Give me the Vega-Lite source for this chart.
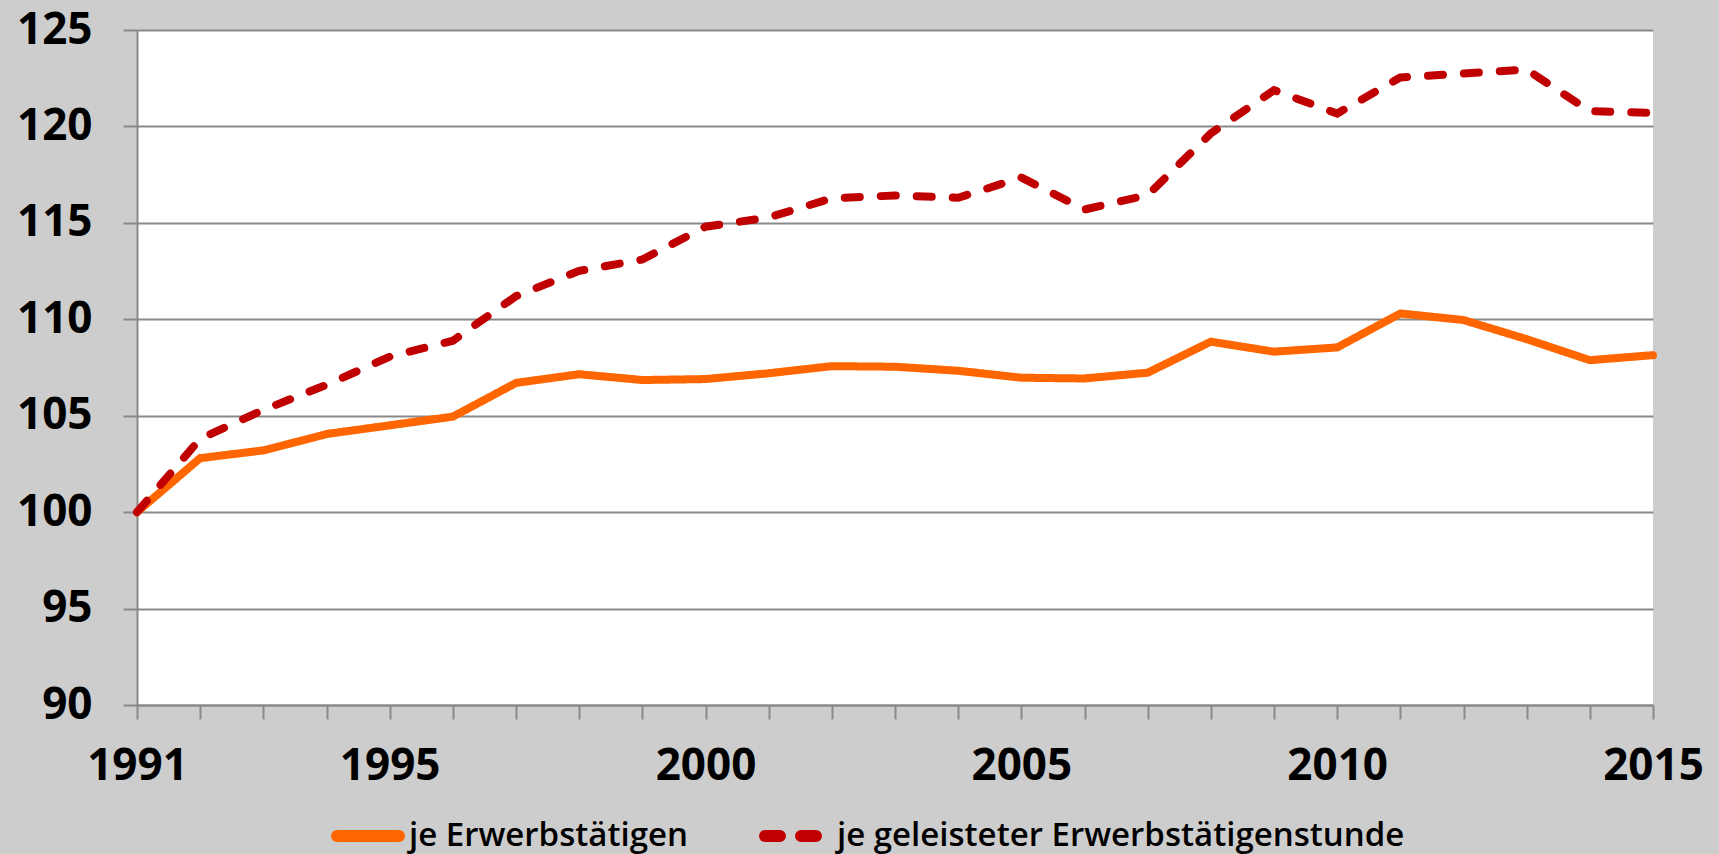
{
  "$schema": "https://vega.github.io/schema/vega-lite/v6.json",
  "autosize": "none",
  "width": 1516,
  "height": 675,
  "padding": {"left": 137, "top": 30, "right": 66, "bottom": 149},
  "background": "#CDCDCD",
  "config": {
    "view": {"fill": "white", "stroke": null},
    "font": "Open Sans"
  },
  "data": {
    "values": [
      {"year": 1991, "series": "je Erwerbstätigen", "value": 100},
      {"year": 1992, "series": "je Erwerbstätigen", "value": 102.8},
      {"year": 1993, "series": "je Erwerbstätigen", "value": 103.2},
      {"year": 1994, "series": "je Erwerbstätigen", "value": 104.05},
      {"year": 1995, "series": "je Erwerbstätigen", "value": 104.5},
      {"year": 1996, "series": "je Erwerbstätigen", "value": 104.95},
      {"year": 1997, "series": "je Erwerbstätigen", "value": 106.7},
      {"year": 1998, "series": "je Erwerbstätigen", "value": 107.15},
      {"year": 1999, "series": "je Erwerbstätigen", "value": 106.85},
      {"year": 2000, "series": "je Erwerbstätigen", "value": 106.9},
      {"year": 2001, "series": "je Erwerbstätigen", "value": 107.2},
      {"year": 2002, "series": "je Erwerbstätigen", "value": 107.57},
      {"year": 2003, "series": "je Erwerbstätigen", "value": 107.54},
      {"year": 2004, "series": "je Erwerbstätigen", "value": 107.33},
      {"year": 2005, "series": "je Erwerbstätigen", "value": 106.97},
      {"year": 2006, "series": "je Erwerbstätigen", "value": 106.93},
      {"year": 2007, "series": "je Erwerbstätigen", "value": 107.23},
      {"year": 2008, "series": "je Erwerbstätigen", "value": 108.84},
      {"year": 2009, "series": "je Erwerbstätigen", "value": 108.32},
      {"year": 2010, "series": "je Erwerbstätigen", "value": 108.54},
      {"year": 2011, "series": "je Erwerbstätigen", "value": 110.3},
      {"year": 2012, "series": "je Erwerbstätigen", "value": 109.96},
      {"year": 2013, "series": "je Erwerbstätigen", "value": 108.97},
      {"year": 2014, "series": "je Erwerbstätigen", "value": 107.88},
      {"year": 2015, "series": "je Erwerbstätigen", "value": 108.14},
      {"year": 1991, "series": "je geleisteter Erwerbstätigenstunde", "value": 100},
      {"year": 1992, "series": "je geleisteter Erwerbstätigenstunde", "value": 103.8},
      {"year": 1993, "series": "je geleisteter Erwerbstätigenstunde", "value": 105.3},
      {"year": 1994, "series": "je geleisteter Erwerbstätigenstunde", "value": 106.6},
      {"year": 1995, "series": "je geleisteter Erwerbstätigenstunde", "value": 108.06},
      {"year": 1996, "series": "je geleisteter Erwerbstätigenstunde", "value": 108.89},
      {"year": 1997, "series": "je geleisteter Erwerbstätigenstunde", "value": 111.2},
      {"year": 1998, "series": "je geleisteter Erwerbstätigenstunde", "value": 112.51},
      {"year": 1999, "series": "je geleisteter Erwerbstätigenstunde", "value": 113.1},
      {"year": 2000, "series": "je geleisteter Erwerbstätigenstunde", "value": 114.8},
      {"year": 2001, "series": "je geleisteter Erwerbstätigenstunde", "value": 115.28},
      {"year": 2002, "series": "je geleisteter Erwerbstätigenstunde", "value": 116.27},
      {"year": 2003, "series": "je geleisteter Erwerbstätigenstunde", "value": 116.42},
      {"year": 2004, "series": "je geleisteter Erwerbstätigenstunde", "value": 116.3},
      {"year": 2005, "series": "je geleisteter Erwerbstätigenstunde", "value": 117.35},
      {"year": 2006, "series": "je geleisteter Erwerbstätigenstunde", "value": 115.69},
      {"year": 2007, "series": "je geleisteter Erwerbstätigenstunde", "value": 116.44},
      {"year": 2008, "series": "je geleisteter Erwerbstätigenstunde", "value": 119.64},
      {"year": 2009, "series": "je geleisteter Erwerbstätigenstunde", "value": 121.88},
      {"year": 2010, "series": "je geleisteter Erwerbstätigenstunde", "value": 120.67},
      {"year": 2011, "series": "je geleisteter Erwerbstätigenstunde", "value": 122.54},
      {"year": 2012, "series": "je geleisteter Erwerbstätigenstunde", "value": 122.74},
      {"year": 2013, "series": "je geleisteter Erwerbstätigenstunde", "value": 122.95},
      {"year": 2014, "series": "je geleisteter Erwerbstätigenstunde", "value": 120.79},
      {"year": 2015, "series": "je geleisteter Erwerbstätigenstunde", "value": 120.7}
    ]
  },
  "mark": {"type": "line", "strokeWidth": 8, "strokeCap": "round", "strokeJoin": "miter"},
  "encoding": {
    "x": {
      "field": "year",
      "type": "quantitative",
      "scale": {"domain": [1991, 2015], "nice": false, "zero": false},
      "axis": {
        "title": null,
        "values": [1991,1992,1993,1994,1995,1996,1997,1998,1999,2000,2001,2002,2003,2004,2005,2006,2007,2008,2009,2010,2011,2012,2013,2014,2015],
        "format": "d",
        "labelExpr": "(datum.value == 1991 || datum.value % 5 == 0) ? datum.label : ''",
        "grid": false,
        "domainColor": "#898989",
        "domainWidth": 2,
        "tickColor": "#898989",
        "tickWidth": 2,
        "tickSize": 14,
        "labelFont": "Open Sans",
        "labelFontWeight": 700,
        "labelFontSize": 44,
        "labelColor": "#000000",
        "labelPadding": 25,
        "labelOverlap": false,
        "labelFlush": false,
        "labelBound": false
      }
    },
    "y": {
      "field": "value",
      "type": "quantitative",
      "scale": {"domain": [90, 125], "nice": false, "zero": false},
      "axis": {
        "title": null,
        "values": [90, 95, 100, 105, 110, 115, 120, 125],
        "grid": true,
        "gridColor": "#898989",
        "gridWidth": 2,
        "domainColor": "#898989",
        "domainWidth": 2,
        "tickColor": "#898989",
        "tickWidth": 2,
        "tickSize": 14,
        "labelFont": "Open Sans",
        "labelFontWeight": 700,
        "labelFontSize": 44,
        "labelColor": "#000000",
        "labelPadding": 31,
        "labelOverlap": false,
        "labelFlush": false,
        "labelBound": false
      }
    },
    "color": {
      "field": "series",
      "type": "nominal",
      "scale": {
        "domain": ["je Erwerbstätigen", "je geleisteter Erwerbstätigenstunde"],
        "range": ["#FF6600", "#C00000"]
      },
      "legend": {
        "title": null,
        "orient": "none",
        "direction": "horizontal",
        "legendX": 194,
        "legendY": 769,
        "padding": 0,
        "symbolType": "stroke",
        "symbolSize": 3844,
        "symbolStrokeWidth": 12,
        "labelFont": "Open Sans",
        "labelFontWeight": 600,
        "labelFontSize": 33,
        "labelColor": "#000000",
        "labelOffset": 4,
        "columnPadding": 53,
        "labelLimit": 0,
        "encode": {"symbols": {"update": {"strokeCap": {"value": "round"}}}}
      }
    },
    "strokeDash": {
      "field": "series",
      "type": "nominal",
      "scale": {
        "domain": ["je Erwerbstätigen", "je geleisteter Erwerbstätigenstunde"],
        "range": [[1, 0], [15, 21]]
      },
      "legend": null
    }
  }
}
